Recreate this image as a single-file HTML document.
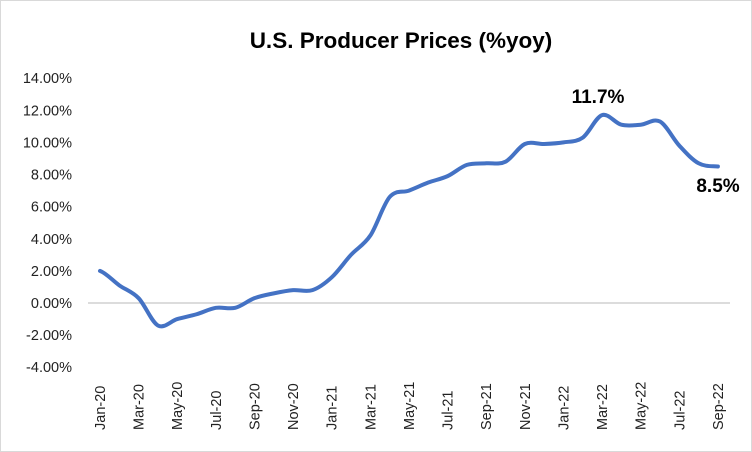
<!DOCTYPE html>
<html><head><style>
body{margin:0;background:#fff}
svg{display:block;font-family:"Liberation Sans",Calibri,sans-serif}
</style></head><body>
<svg width="752" height="452" xmlns="http://www.w3.org/2000/svg">
<rect x="0.5" y="0.5" width="751" height="451" fill="#fff" stroke="#d9d9d9"/>
<text x="401" y="48" font-size="22.5" font-weight="bold" text-anchor="middle" fill="#000">U.S. Producer Prices (%yoy)</text>
<g font-size="14.5" fill="#222" text-anchor="end" id="yl"></g>
<line x1="88" y1="303" x2="730" y2="303" stroke="#d0d0d0" stroke-width="1.5"/>
<g font-size="14.5" fill="#222" id="xl"></g>
<path id="ln" fill="none" stroke="#4472c4" stroke-width="4" stroke-linejoin="round" stroke-linecap="round"/>
<text x="598" y="103" font-size="19" font-weight="bold" text-anchor="middle">11.7%</text>
<text x="718" y="192" font-size="19" font-weight="bold" text-anchor="middle">8.5%</text>
</svg>
<script>
var Y=function(v){return 303-v*16.06};
var yl=document.getElementById('yl'),s='';
for(var v=14;v>=-4;v-=2){s+='<text x="72" y="'+(Y(v)+5)+'">'+v.toFixed(2)+'%</text>';}
yl.innerHTML=s;
var d=[2.0,1.1,0.3,-1.4,-1.0,-0.7,-0.3,-0.3,0.3,0.6,0.8,0.8,1.6,3.0,4.2,6.6,7.0,7.5,7.9,8.6,8.7,8.8,9.9,9.9,10.0,10.3,11.7,11.1,11.1,11.3,9.8,8.7,8.5];
var X=function(i){return 100+i*19.31};
var m=['Jan','Mar','May','Jul','Sep','Nov'];
s='';
for(var i=0;i<33;i+=2){var yr=20+Math.floor(i/12);var lab=m[(i%12)/2]+'-'+yr;
s+='<text transform="translate('+(X(i)+5)+',430) rotate(-90)">'+lab+'</text>';}
document.getElementById('xl').innerHTML=s;
var p='M'+X(0)+','+Y(d[0]);
for(var i=0;i<32;i++){var p0=d[Math.max(i-1,0)],p1=d[i],p2=d[i+1],p3=d[Math.min(i+2,32)];
var h=19.31/3;
p+=' C'+(X(i)+h)+','+Y(p1+(p2-p0)/6)+' '+(X(i+1)-h)+','+Y(p2-(p3-p1)/6)+' '+X(i+1)+','+Y(p2);}
document.getElementById('ln').setAttribute('d',p);
</script>
</body></html>
